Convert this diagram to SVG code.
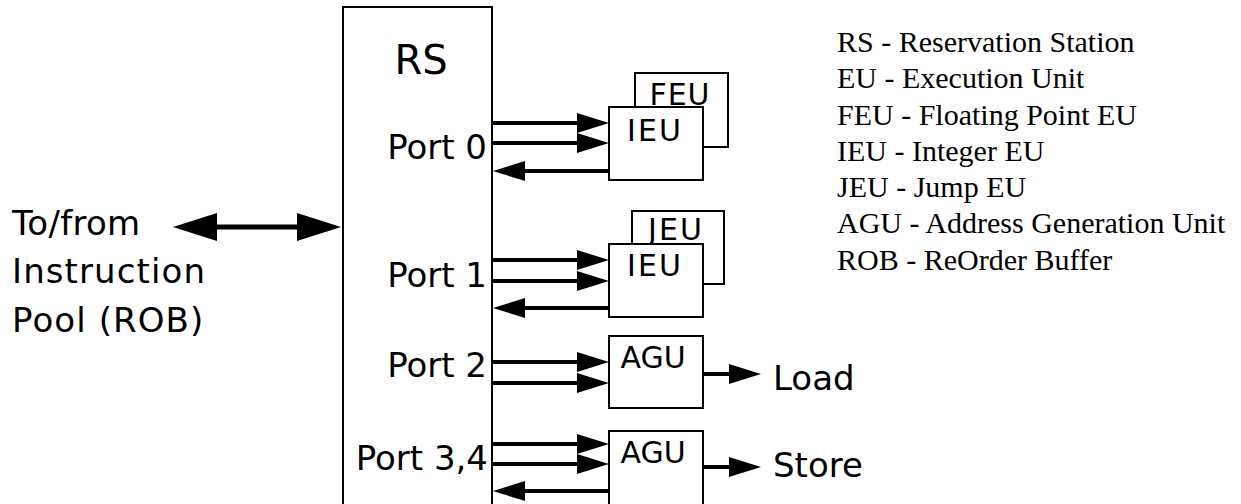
<svg xmlns="http://www.w3.org/2000/svg" width="1241" height="504" viewBox="0 0 1241 504">
<style>
.box{fill:#fff;stroke:#000;stroke-width:2}
.sans{font-family:"DejaVu Sans","Liberation Sans",sans-serif;fill:#000}
.lbl{font-size:34px}
.unit{font-size:30px;text-anchor:middle}
.port{font-size:34px;text-anchor:end}
.legend{font-family:"Liberation Serif","Times New Roman",serif;font-size:30px;fill:#000}
.arr{stroke:#000;stroke-width:4;fill:none;marker-end:url(#head)}
.big{stroke:#000;stroke-width:5;fill:none;marker-start:url(#bighead);marker-end:url(#bighead)}
</style>
<defs>
<marker id="head" markerUnits="userSpaceOnUse" viewBox="0 -10 32 20" refX="0" refY="0" markerWidth="32" markerHeight="20" orient="auto" overflow="visible">
<path d="M0,-10 L32,0 L0,10 z" fill="#000"/>
</marker>
<marker id="bighead" markerUnits="userSpaceOnUse" viewBox="0 -14 44 28" refX="0" refY="0" markerWidth="44" markerHeight="28" orient="auto-start-reverse" overflow="visible">
<path d="M0,-14 L44,0 L0,14 z" fill="#000"/>
</marker>
</defs>

<g id="rs">
<rect class="box" x="343" y="7" width="149" height="510"/>
<text class="sans" x="421" y="74" font-size="40" text-anchor="middle">RS</text>
<text class="sans port" x="487" y="159">Port 0</text>
<text class="sans port" x="487" y="287">Port 1</text>
<text class="sans port" x="487" y="377">Port 2</text>
<text class="sans port" x="488" y="470">Port 3,4</text>
</g>

<g id="pool">
<text class="sans lbl" x="12" y="235" letter-spacing="0.3">To/from</text>
<text class="sans lbl" x="12" y="283" letter-spacing="1.1">Instruction</text>
<text class="sans lbl" x="12" y="332" letter-spacing="1.1">Pool (ROB)</text>
</g>

<g id="feu">
<rect class="box" x="635" y="73" width="93" height="74"/>
<text class="sans unit" x="680" y="105" letter-spacing="1">FEU</text>
</g>
<g id="ieu0">
<rect class="box" x="609" y="107" width="94" height="73"/>
<text class="sans unit" x="655" y="141" letter-spacing="2">IEU</text>
</g>

<g id="jeu">
<rect class="box" x="632" y="211" width="92" height="73"/>
<text class="sans unit" x="676" y="240" letter-spacing="2">JEU</text>
</g>
<g id="ieu1">
<rect class="box" x="609" y="244" width="94" height="73"/>
<text class="sans unit" x="655" y="276" letter-spacing="2">IEU</text>
</g>

<g id="agu1">
<rect class="box" x="609" y="336" width="94" height="72"/>
<text class="sans unit" x="653" y="368">AGU</text>
</g>
<g id="agu2">
<rect class="box" x="609" y="431" width="94" height="80"/>
<text class="sans unit" x="653" y="463">AGU</text>
</g>

<g id="load">
<text class="sans lbl" x="773" y="390">Load</text>
</g>
<g id="store">
<text class="sans lbl" x="773" y="477">Store</text>
</g>

<g id="legend" class="legend">
<text x="837" y="52">RS - Reservation Station</text>
<text x="837" y="88">EU - Execution Unit</text>
<text x="837" y="125">FEU - Floating Point EU</text>
<text x="837" y="161">IEU - Integer EU</text>
<text x="837" y="197">JEU - Jump EU</text>
<text x="837" y="233">AGU - Address Generation Unit</text>
<text x="837" y="270">ROB - ReOrder Buffer</text>
</g>

<g id="connectors">
<line class="big" x1="217" y1="227" x2="297" y2="227"/>
<line class="arr" x1="492" y1="123" x2="577" y2="123"/>
<line class="arr" x1="492" y1="143" x2="577" y2="143"/>
<line class="arr" x1="609" y1="171" x2="525" y2="171"/>
<line class="arr" x1="492" y1="260" x2="577" y2="260"/>
<line class="arr" x1="492" y1="281" x2="577" y2="281"/>
<line class="arr" x1="609" y1="308" x2="525" y2="308"/>
<line class="arr" x1="492" y1="362" x2="577" y2="362"/>
<line class="arr" x1="492" y1="383" x2="577" y2="383"/>
<line class="arr" x1="492" y1="444" x2="577" y2="444"/>
<line class="arr" x1="492" y1="464" x2="577" y2="464"/>
<line class="arr" x1="609" y1="491" x2="525" y2="491"/>
<line class="arr" x1="703" y1="374" x2="729" y2="374"/>
<line class="arr" x1="703" y1="467" x2="729" y2="467"/>
</g>
</svg>
